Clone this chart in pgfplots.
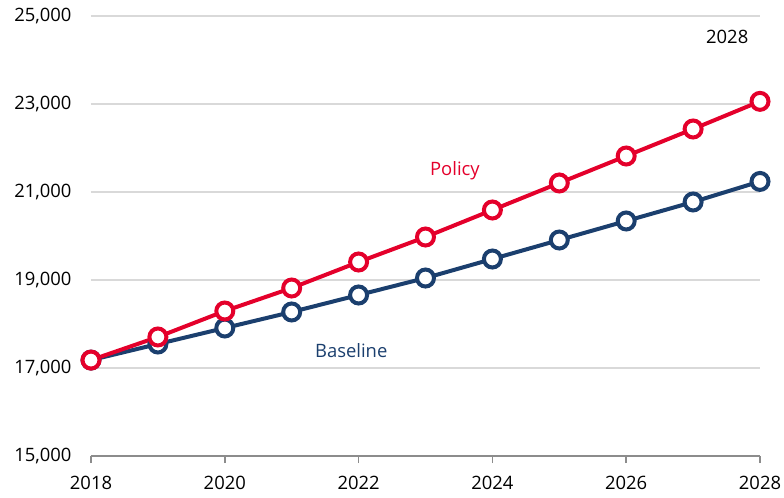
\documentclass[border=0pt]{standalone}
\usepackage{fontspec}
\setmainfont{Open Sans}
\usepackage{pgfplots}
\pgfplotsset{compat=1.18}
\definecolor{pol}{HTML}{E4002B}
\definecolor{base}{HTML}{1B3F6E}
\definecolor{grd}{HTML}{D9D9D9}
\begin{document}
\begin{tikzpicture}
\begin{axis}[
  scale only axis, width=669bp, height=440bp,
  xmin=2018, xmax=2028, ymin=15000, ymax=25000,
  xtick={2018,2020,...,2028}, ytick={15000,17000,...,25000},
  scaled ticks=false,
  axis x line*=bottom, axis y line*=left,
  x axis line style={-, color=black!45, line width=1.5bp},
  y axis line style={draw=none},
  ymajorgrids, grid style={grd, line width=1.5bp},
  xtick align=outside, major tick length=7bp,
  xtick style={black!45, line width=1.5bp},
  ytick style={draw=none},
  /pgf/number format/assume math mode=true,
  yticklabel style={font=\fontsize{18.5}{20}\selectfont, /pgf/number format/fixed, /pgf/number format/precision=0, /pgf/number format/1000 sep={,}, xshift=-16bp},
  xticklabel style={font=\fontsize{18.5}{20}\selectfont, /pgf/number format/1000 sep={}, yshift=-10bp},
  clip=false,
]
\addplot[base, line width=4bp, mark=*, mark size=8.5bp, mark options={fill=white, line width=4bp}] coordinates {
(2018,17180) (2019,17545) (2020,17909) (2021,18273) (2022,18659) (2023,19045)
(2024,19477) (2025,19909) (2026,20341) (2027,20773) (2028,21240)};
\addplot[pol, line width=4bp, mark=*, mark size=8.5bp, mark options={fill=white, line width=4bp}] coordinates {
(2018,17180) (2019,17705) (2020,18295) (2021,18818) (2022,19409) (2023,19977)
(2024,20591) (2025,21205) (2026,21818) (2027,22432) (2028,23060)};
\node[pol, font=\fontsize{18.5}{20}\selectfont] at (axis cs:2023.44,21477) {Policy};
\node[base, font=\fontsize{18.5}{20}\selectfont] at (axis cs:2021.89,17386) {Baseline};
\node[black, font=\fontsize{18.5}{20}\selectfont] at (axis cs:2027.51,24523) {2028};
\end{axis}
\pgfresetboundingbox
\path (-91bp,-42bp) rectangle (693bp,456bp);
\end{tikzpicture}
\end{document}
